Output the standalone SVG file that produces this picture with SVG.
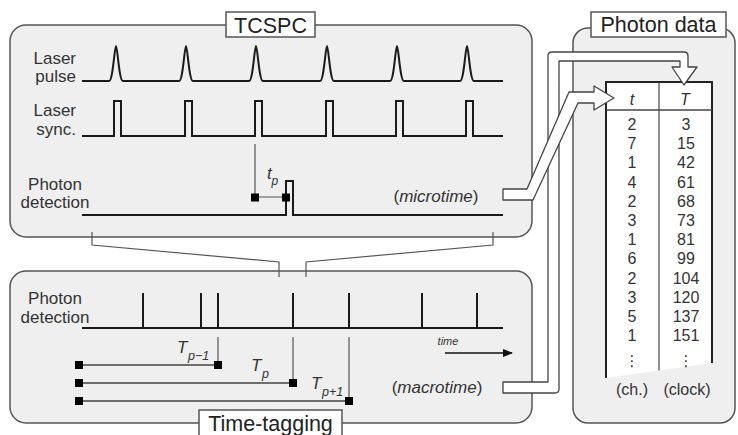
<svg xmlns="http://www.w3.org/2000/svg" width="738" height="435" viewBox="0 0 738 435">
<defs>
<style>
.panel{fill:#efefef;stroke:#555;stroke-width:1.5}
.lbox{fill:#fff;stroke:#555;stroke-width:1.5}
.sig{fill:none;stroke:#1a1a1a;stroke-width:2;stroke-linejoin:miter}
.thin{fill:none;stroke:#555;stroke-width:1.2}
.tag{fill:none;stroke:#444;stroke-width:1.5}
.sq{fill:#000}
text{font-family:"Liberation Sans",Arial,sans-serif;fill:#333}
.lab{font-size:17px}
.title{font-size:21.5px;fill:#222}
.it{font-style:italic}
.num{font-size:16px;text-anchor:middle}
.dots{font-family:"DejaVu Sans",sans-serif;font-size:15px;text-anchor:middle}
.band{fill:#fff;stroke:#444;stroke-width:1.3;stroke-linejoin:round}
</style>
<marker id="ah" viewBox="0 0 10 10" refX="9" refY="5" markerWidth="10" markerHeight="10" markerUnits="userSpaceOnUse" orient="auto">
<path d="M0 1 L10 5 L0 9 Z" fill="#111"/>
</marker>
</defs>
<rect width="738" height="435" fill="#fff"/>

<g id="tcspc">
<rect class="panel" x="10" y="25" width="522" height="212" rx="16"/>
<rect class="lbox" x="226" y="12" width="89" height="25"/>
<text class="title" x="270.5" y="32.5" text-anchor="middle">TCSPC</text>
<text class="lab" x="76" y="64" text-anchor="end">Laser</text>
<text class="lab" x="76" y="82" text-anchor="end">pulse</text>
<text class="lab" x="76" y="116" text-anchor="end">Laser</text>
<text class="lab" x="76" y="135" text-anchor="end">sync.</text>
<text class="lab" x="55" y="190" text-anchor="middle">Photon</text>
<text class="lab" x="55" y="208" text-anchor="middle">detection</text>
<path class="sig" d="M82 81 H109 C113 81 114.5 46 116 46 C117.5 46 119 81 123 81 H179 C183 81 184.5 46 186 46 C187.5 46 189 81 193 81 H249 C253 81 254.5 46 256 46 C257.5 46 259 81 263 81 H320 C324 81 325.5 46 327 46 C328.5 46 330 81 334 81 H390 C394 81 395.5 46 397 46 C398.5 46 400 81 404 81 H460 C464 81 465.5 46 467 46 C468.5 46 470 81 474 81 H503"/>
<path class="sig" d="M82 136 H114 V101 H121 V136 H185 V101 H192 V136 H255 V101 H262 V136 H326 V101 H333 V136 H396 V101 H403 V136 H466 V101 H473 V136 H503"/>
<path class="sig" d="M82 215 H286 V181 H293 V215 H503"/>
<path class="thin" d="M255 144 V197 H286"/>
<rect class="sq" x="251" y="193.5" width="8" height="8"/>
<rect class="sq" x="282" y="193.5" width="8" height="8"/>
<text class="it" x="267" y="179" font-size="17">t</text>
<text class="it" x="271.5" y="185" font-size="12">p</text>
<text class="lab" x="436" y="202" text-anchor="middle">(<tspan class="it">microtime</tspan>)</text>
</g>

<g id="time-tagging">
<rect class="panel" x="10" y="271" width="522" height="152" rx="16"/>
<text class="lab" x="55" y="304" text-anchor="middle">Photon</text>
<text class="lab" x="55" y="323" text-anchor="middle">detection</text>
<path class="sig" d="M82 328 H503 M143 293 V328 M201 293 V328 M218 293 V328 M293 293 V328 M349 293 V328 M422 293 V328 M477 293 V328"/>
<text class="it" x="448" y="345" font-size="11" text-anchor="middle">time</text>
<line x1="445" y1="353" x2="512" y2="353" stroke="#111" stroke-width="1.3" marker-end="url(#ah)"/>
<path class="thin" d="M218 337 V365 M293 337 V383 M349 337 V401"/>
<path class="tag" d="M79 365 H218 M79 383 H293 M79 401 H349"/>
<rect class="sq" x="75" y="361" width="8" height="8"/>
<rect class="sq" x="214" y="361" width="8" height="8"/>
<rect class="sq" x="75" y="379" width="8" height="8"/>
<rect class="sq" x="289" y="379" width="8" height="8"/>
<rect class="sq" x="75" y="397" width="8" height="8"/>
<rect class="sq" x="345" y="397" width="8" height="8"/>
<text class="it" x="177" y="353" font-size="17">T</text>
<text class="it" x="188" y="360" font-size="12.5">p−1</text>
<text class="it" x="251" y="371" font-size="17">T</text>
<text class="it" x="262" y="378" font-size="12.5">p</text>
<text class="it" x="311" y="389" font-size="17">T</text>
<text class="it" x="322" y="396" font-size="12.5">p+1</text>
<text class="lab" x="437" y="393" text-anchor="middle">(<tspan class="it">macrotime</tspan>)</text>
<rect class="lbox" x="199" y="410" width="143" height="32"/>
<text class="title" x="270.5" y="430.5" text-anchor="middle">Time-tagging</text>
</g>

<g id="photon-data">
<rect class="panel" x="573" y="28" width="162" height="395" rx="15"/>
<rect class="lbox" x="591" y="12" width="135" height="25"/>
<text class="title" x="658.5" y="32" font-size="20.5" text-anchor="middle">Photon data</text>
<polygon points="606,82 712,82 712,363 606,378" fill="#fff"/>
<path d="M606 82 H712" stroke="#222" stroke-width="2"/>
<path d="M606 81 V378 M712 81 V363" stroke="#222" stroke-width="2"/>
<path d="M606 110 H712" stroke="#444" stroke-width="1.3"/>
<path d="M659 82 V370.5" stroke="#444" stroke-width="1.2"/>
<text class="num it" x="632" y="105">t</text>
<text class="num it" x="685" y="105">T</text>
<g class="rows">
<text class="num" x="632" y="130">2</text><text class="num" x="686" y="130">3</text>
<text class="num" x="632" y="149.2">7</text><text class="num" x="686" y="149.2">15</text>
<text class="num" x="632" y="168.4">1</text><text class="num" x="686" y="168.4">42</text>
<text class="num" x="632" y="187.6">4</text><text class="num" x="686" y="187.6">61</text>
<text class="num" x="632" y="206.8">2</text><text class="num" x="686" y="206.8">68</text>
<text class="num" x="632" y="226">3</text><text class="num" x="686" y="226">73</text>
<text class="num" x="632" y="245.2">1</text><text class="num" x="686" y="245.2">81</text>
<text class="num" x="632" y="264.4">6</text><text class="num" x="686" y="264.4">99</text>
<text class="num" x="632" y="283.6">2</text><text class="num" x="686" y="283.6">104</text>
<text class="num" x="632" y="302.8">3</text><text class="num" x="686" y="302.8">120</text>
<text class="num" x="632" y="322">5</text><text class="num" x="686" y="322">137</text>
<text class="num" x="632" y="341.2">1</text><text class="num" x="686" y="341.2">151</text>
<text class="dots" x="632" y="366">⋮</text>
<text class="dots" x="686" y="366">⋮</text>
</g>
<text class="num" x="632" y="395">(ch.)</text>
<text class="num" x="687" y="395">(clock)</text>
</g>

<g id="connectors">
<path class="thin" d="M92 232 V245 L279 262 V277"/>
<path class="thin" d="M493 232 V245 L306 262 V277"/>
<path id="macrotime-arrow" class="band" d="M503 382 H548 V56 Q548 52 552 52 H684 Q688 52 688 56 V67 H697 L684 85 L672 67 H680 V61 H559 V389 Q559 393 555 393 H503 Z"/>
<path id="microtime-arrow" class="band" d="M503 189 H527 L569 92 H594 V86 L614 98 L594 110 V103 H578 L533 200 H503 Z"/>
</g>
</svg>
